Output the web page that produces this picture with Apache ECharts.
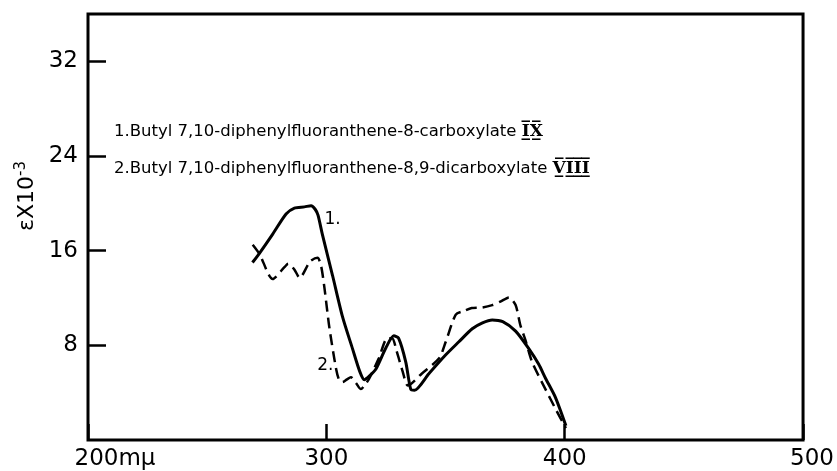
<!DOCTYPE html>
<html>
<head>
<meta charset="utf-8">
<script src="https://cdn.jsdelivr.net/npm/echarts@6/dist/echarts.min.js"></script>
<style>html,body{margin:0;padding:0;background:#fff;}#c{width:837px;height:471px;}</style>
</head>
<body>
<div id="c"></div>
<script>
// Wavelength (mμ) and ε×10^-3 values
var wl1 = [269.0,272.0,277.5,283.1,286.6,290.8,293.6,295.3,296.5,298.3,302.6,306.8,311.0,314.0,315.9,318.0,320.8,325.0,328.3,330.3,333.3,335.4,337.0,343.0,350.1,355.6,361.2,365.5,369.6,374.0,379.4,385.0,389.1,392.0,396.1,400.5];
var eps1 = [15.0,15.8,17.4,19.1,19.6,19.7,19.8,19.5,19.0,17.4,13.9,10.4,7.7,5.8,5.1,5.4,6.0,7.8,8.8,8.6,6.6,4.3,4.2,5.6,7.2,8.3,9.4,9.9,10.15,10.0,9.2,7.7,6.4,5.2,3.6,1.2];
var wl2 = [269.1,272.0,277.5,282.4,284.0,286.6,288.8,293.2,296.3,297.8,299.2,301.3,304.1,305.4,306.8,308.5,310.3,312.5,314.5,316.0,318.0,322.0,325.6,327.6,329.5,332.0,334.2,340.0,347.3,350.1,354.3,357.7,361.0,365.4,369.6,373.0,376.6,379.4,381.4,383.6,386.3,391.9,396.5,400.5];
var eps2 = [16.5,15.7,13.6,14.6,14.9,14.4,13.7,15.1,15.4,14.7,12.85,9.45,6.0,5.05,4.9,5.1,5.3,4.8,4.3,4.6,5.2,6.9,8.6,8.6,7.5,5.8,4.6,5.6,6.9,8.3,10.6,10.9,11.15,11.2,11.4,11.7,12.05,11.4,9.7,8.4,6.6,4.3,2.5,1.0];
var xTicks = [200, 300, 400, 500];
var yTicks = [8, 16, 24, 32];
var legend1 = '1.Butyl 7,10-diphenylfluoranthene-8-carboxylate ';
var legend2 = '2.Butyl 7,10-diphenylfluoranthene-8,9-dicarboxylate ';
var roman1 = 'I\u0305\u0332X\u0305\u0332';
var roman2 = 'V\u0305\u0332I\u0305\u0332I\u0305\u0332I\u0305\u0332';

function zip(a, b) { return a.map(function (v, i) { return [v, b[i]]; }); }

var chart = echarts.init(document.getElementById('c'));
var FONT = '"DejaVu Sans", sans-serif';
chart.setOption({
  animation: false,
  backgroundColor: '#fff',
  grid: { left: 88, right: 30, top: 14, bottom: 30, show: true, borderColor: '#000', borderWidth: 3, backgroundColor: 'transparent' },
  xAxis: {
    type: 'value', min: 200, max: 500, interval: 100,
    axisLine: { show: false },
    axisTick: { show: true, inside: true, length: 16, lineStyle: { color: '#000', width: 2.5 } },
    splitLine: { show: false },
    axisLabel: {
      color: '#000', fontSize: 23, fontFamily: FONT, margin: 8,
      formatter: function (v) {
        if (v === xTicks[0]) return '{a|' + v + 'mμ}';
        if (v === xTicks[3]) return '{b|' + v + '}';
        return String(v);
      },
      rich: {
        a: { fontSize: 23, fontFamily: FONT, color: '#000', padding: [0, 0, 0, 54] },
        b: { fontSize: 23, fontFamily: FONT, color: '#000', padding: [0, 0, 0, 18] }
      }
    }
  },
  yAxis: {
    type: 'value', min: 0, max: 36, interval: 8,
    axisLine: { show: false },
    axisTick: { show: true, inside: true, length: 18, lineStyle: { color: '#000', width: 2.5 } },
    splitLine: { show: false },
    axisLabel: {
      color: '#000', fontSize: 23, fontFamily: FONT, margin: 10,
      showMinLabel: false, showMaxLabel: false,
      formatter: function (v) { return yTicks.indexOf(v) >= 0 ? String(v) : ''; }
    }
  },
  graphic: [
    {
      type: 'text', left: 114, top: 123,
      style: {
        text: legend1 + '{r|' + roman1 + '}',
        font: '16.5px ' + FONT, fill: '#000',
        rich: { r: { fontFamily: '"DejaVu Serif", serif', fontWeight: 'bold', fontSize: 17, fill: '#000' } }
      }
    },
    {
      type: 'text', left: 114, top: 160,
      style: {
        text: legend2 + '{r|' + roman2 + '}',
        font: '16.5px ' + FONT, fill: '#000',
        rich: { r: { fontFamily: '"DejaVu Serif", serif', fontWeight: 'bold', fontSize: 17, fill: '#000' } }
      }
    },
    {
      type: 'text', x: 27, y: 196, rotation: Math.PI / 2,
      style: {
        text: 'εX10{s|-3}', font: '22px ' + FONT, fill: '#000',
        align: 'center', verticalAlign: 'middle',
        rich: { s: { fontSize: 15, fontFamily: FONT, fill: '#000', verticalAlign: 'top', padding: [0, 0, 12, 0] } }
      }
    }
  ],
  series: [
    {
      type: 'line', data: zip(wl1, eps1), smooth: 0.25, showSymbol: false, symbol: 'none',
      lineStyle: { color: '#000', width: 3 },
      markPoint: {
        symbol: 'circle', symbolSize: 0, silent: true,
        label: { show: true, color: '#000', fontSize: 17, fontFamily: FONT, formatter: '1.' },
        data: [{ coord: [302.6, 18.6] }]
      }
    },
    {
      type: 'line', data: zip(wl2, eps2), smooth: 0.25, showSymbol: false, symbol: 'none',
      lineStyle: { color: '#000', width: 2.5, type: [11, 6] },
      markPoint: {
        symbol: 'circle', symbolSize: 0, silent: true,
        label: { show: true, color: '#000', fontSize: 17, fontFamily: FONT, formatter: '2.' },
        data: [{ coord: [299.6, 6.3] }]
      }
    }
  ]
});
</script>
</body>
</html>
